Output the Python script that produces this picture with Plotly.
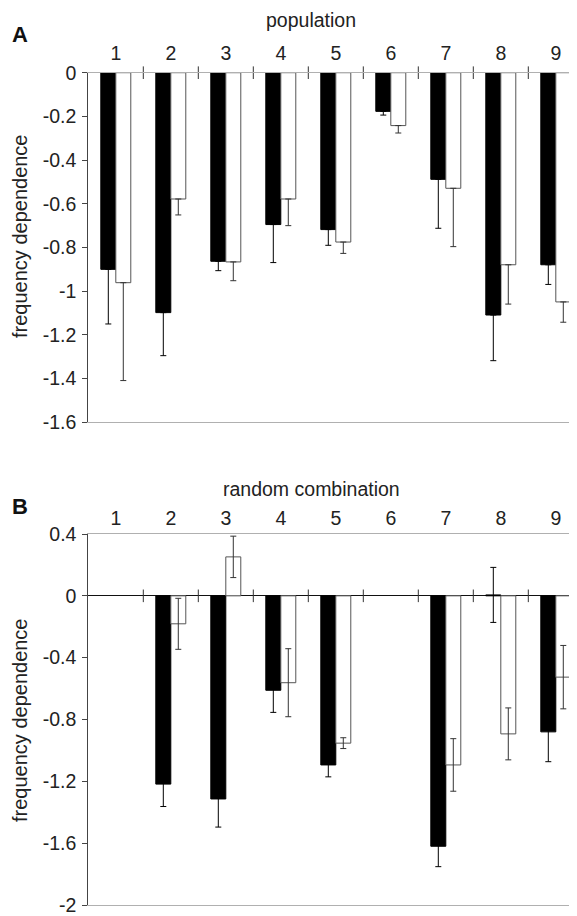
import plotly.graph_objects as go

# page is drawn with an 8px body margin, so the figure is made 8px smaller
OX, OY = 8, 8
PAGE_W, PAGE_H = 577, 916
W, H = PAGE_W - OX, PAGE_H - OY

categories = [1, 2, 3, 4, 5, 6, 7, 8, 9]
cat_labels = ["1", "2", "3", "4", "5", "6", "7", "8", "9"]

# Panel A: population
a_black = [-0.900, -1.098, -0.863, -0.695, -0.718, -0.177, -0.488, -1.109, -0.879]
a_black_err = [0.250, 0.197, 0.043, 0.174, 0.072, 0.017, 0.224, 0.209, 0.090]
a_white = [-0.961, -0.578, -0.866, -0.578, -0.775, -0.242, -0.529, -0.879, -1.049]
a_white_err = [0.448, 0.073, 0.086, 0.122, 0.052, 0.034, 0.267, 0.180, 0.093]

# Panel B: random combination
b_black = [None, -1.218, -1.314, -0.611, -1.094, None, -1.620, 0.006, -0.880]
b_black_err = [None, 0.145, 0.182, 0.143, 0.077, None, 0.132, 0.178, 0.193]
b_white = [None, -0.181, 0.252, -0.562, -0.953, None, -1.094, -0.893, -0.526]
b_white_err = [None, 0.165, 0.134, 0.220, 0.035, None, 0.170, 0.168, 0.205]

a_ticks = [0, -0.2, -0.4, -0.6, -0.8, -1.0, -1.2, -1.4, -1.6]
a_ticktext = ["0", "-0.2", "-0.4", "-0.6", "-0.8", "-1", "-1.2", "-1.4", "-1.6"]
b_ticks = [0.4, 0, -0.4, -0.8, -1.2, -1.6, -2.0]
b_ticktext = ["0.4", "0", "-0.4", "-0.8", "-1.2", "-1.6", "-2"]

FONT = "Liberation Sans, Arial, sans-serif"
DARK = "#333333"
FS = 19.5


def py(pix):
    return 1 - (pix - OY) / H


def px(pix):
    return (pix - OX) / W


fig = go.Figure()

seps = [c + 0.5 for c in categories[:-1]]

for xa, ya, blk, blk_e, wht, wht_e, two_sided in [
    ("x", "y", a_black, a_black_err, a_white, a_white_err, False),
    ("x2", "y2", b_black, b_black_err, b_white, b_white_err, True),
]:
    for vals, errs, fill, outline, ecol in [
        (blk, blk_e, "black", "black", "black"),
        (wht, wht_e, "white", "#555555", DARK),
    ]:
        if two_sided:
            ey = dict(type="data", array=errs, symmetric=True,
                      color=ecol, thickness=1, width=3)
        else:
            ey = dict(type="data", array=[0 for _ in errs], arrayminus=errs,
                      symmetric=False, color=ecol, thickness=1, width=3)
        fig.add_trace(go.Bar(
            x=categories, y=vals, xaxis=xa, yaxis=ya,
            marker=dict(color=fill, line=dict(color=outline, width=1)),
            error_y=ey, showlegend=False, hoverinfo="skip",
        ))
    fig.add_trace(go.Scatter(
        x=seps, y=[0] * len(seps), xaxis=xa, yaxis=ya, mode="markers",
        marker=dict(symbol="line-ns", size=9, line=dict(color=DARK, width=1)),
        showlegend=False, hoverinfo="skip", cliponaxis=False,
    ))

AXIS_LEFT = 88.3
xdom = [px(AXIS_LEFT), 1.0]
xrange_ = [0.5, 0.5 + (PAGE_W - AXIS_LEFT) / 55.0]

xcommon = dict(
    side="top", tickvals=categories, ticktext=cat_labels, ticks="",
    showgrid=False, zeroline=False, showline=True, mirror=True,
    linecolor="#b0b0b0", linewidth=1, range=xrange_, domain=xdom,
    tickfont=dict(family=FONT, size=FS, color="#222"),
    automargin=False,
)
ycommon = dict(
    showgrid=False, zeroline=True, zerolinecolor="#111", zerolinewidth=1,
    showline=True, linecolor="#444", linewidth=1, ticks="outside",
    ticklen=5, tickcolor="#444",
    tickfont=dict(family=FONT, size=FS, color="#222"),
    ticklabelstandoff=2, automargin=False, ticklabeloverflow="allow",
)

fig.update_layout(
    template="none",
    width=W, height=H,
    margin=dict(l=0, r=0, t=0, b=0, pad=0),
    paper_bgcolor="white", plot_bgcolor="white",
    barmode="group", bargap=0.455, bargroupgap=0,
    xaxis=dict(anchor="y", ticklabelstandoff=4, **xcommon),
    xaxis2=dict(anchor="y2", ticklabelstandoff=0, **xcommon),
    yaxis=dict(anchor="x", domain=[py(422.3), py(72.7)], range=[-1.6, 0],
               tickvals=a_ticks, ticktext=a_ticktext, **ycommon),
    yaxis2=dict(anchor="x2", domain=[py(905), py(534)], range=[-2, 0.4],
                tickvals=b_ticks, ticktext=b_ticktext, **ycommon),
    annotations=[
        dict(text="<b>A</b>", x=px(20), y=py(35)),
        dict(text="<b>B</b>", x=px(20), y=py(506)),
        dict(text="population", x=px(311), y=py(20)),
        dict(text="random combination", x=px(311), y=py(489)),
        dict(text="frequency dependence", x=px(20), y=py(236), textangle=-90),
        dict(text="frequency dependence", x=px(20), y=py(720), textangle=-90),
    ],
)
for i, ann in enumerate(fig.layout.annotations):
    ann.update(xref="paper", yref="paper", showarrow=False,
               xanchor="center", yanchor="middle",
               font=dict(family=FONT, size=22 if i < 2 else (20 if i >= 4 else FS),
                         color="#111" if i < 2 else "#222"))

fig.write_html("out.html")
